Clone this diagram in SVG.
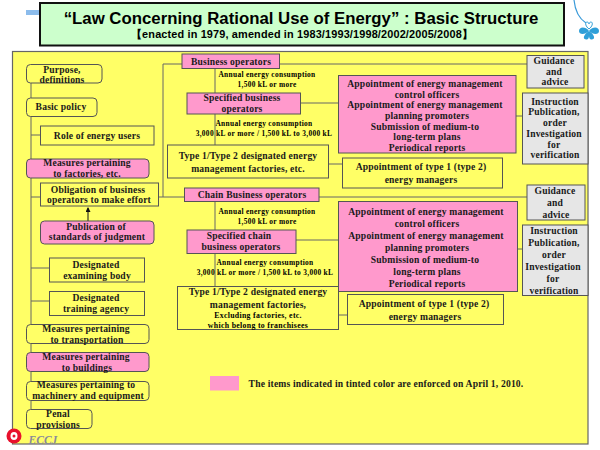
<svg xmlns="http://www.w3.org/2000/svg" width="600" height="450" viewBox="0 0 600 450">
<style>
text{font-family:"Liberation Serif",serif;font-weight:bold;font-size:9.6px;letter-spacing:.17px;text-anchor:middle;fill:#1a1a1a}
.s{font-size:7.4px;letter-spacing:.32px;fill:#000}
.y,.p,.g{stroke:#555;stroke-width:1}
.y{fill:#ffff66}.p{fill:#ff99cc}.g{fill:#e6e6e6}
.c{fill:none;stroke:#666;stroke-width:1}
</style>
<defs><marker id="a" markerWidth="6" markerHeight="6" refX="4" refY="2.5" orient="auto"><path d="M0 0L5 2.5L0 5z" fill="#111"/></marker></defs>
<rect width="600" height="450" fill="#fff"/>
<rect x="26" y="10" width="13" height="5" fill="#8cbcec"/>
<g id="title"><rect x="40" y="3" width="524" height="42.500" fill="#ccffcc" stroke="#111" stroke-width="2"/>
<text x="301" y="24" style="font-family:'Liberation Sans',sans-serif;font-size:16.800px;letter-spacing:0;fill:#000">“Law Concerning Rational Use of Energy” : Basic Structure</text>
<text x="302" y="38" style="font-family:'Liberation Sans',sans-serif;font-size:10.900px;letter-spacing:.15px;fill:#000">【enacted in 1979, amended in 1983/1993/1998/2002/2005/2008】</text></g>
<g id="logo"><path d="M574 0C575 10 578 18 586 23" fill="none" stroke="#3a9ad9" stroke-width="1.200"/>
<path d="M589 29C585 26 585 22 587 22C588 22 589 23 589 24C589 23 590 22 591 22C593 22 593 26 589 29Z" fill="#fff" stroke="#2f9fd8" stroke-width="1"/>
<g fill="#2f9fd8"><path d="M589 31C585 26 579 27 579 31C579 35 585 35 589 31Z"/><path d="M589 31C593 26 599 27 599 31C599 35 593 35 589 31Z"/><path d="M589 31C584 34 582 39 586 39.500C588 40 589 38 589 36C589 38 590 40 592 39.500C596 39 594 34 589 31Z"/></g></g>
<rect x="12.500" y="51.500" width="575.500" height="392.500" fill="#ffff66" stroke="#666" stroke-width="1.200"/>
<g id="connectors">
<path class="c" d="M31 83V409M31 135H40M31 197H40M31 268H49M31 301H49M158 197H184M163 197V64H182M279 64H527M215 68V93M215 114V145M300 103H338M516 116H522M328 164H342M319 197H527M215 201V230M215 253V286M296 240H338M517 249H522M338 315H347"/>
<path d="M88 221V208" fill="none" stroke="#111" stroke-width="1" marker-end="url(#a)"/>
</g>
<g id="purpose"><rect class="y" x="26.500" y="64.500" width="75.500" height="18.500" rx="4"/><text x="62" y="73">Purpose,</text><text x="62" y="83">definitions</text></g>
<g id="basic-policy"><rect class="y" x="26.500" y="98" width="70.500" height="18.500" rx="4"/><text x="61" y="110">Basic policy</text></g>
<g id="role"><rect class="y" x="40.500" y="126" width="113.500" height="19"/><text x="97" y="139">Role of energy users</text></g>
<g id="factories"><rect class="p" x="26.500" y="159" width="122.500" height="19" rx="4"/><text x="87" y="166">Measures pertaining</text><text x="87" y="177">to factories, etc.</text></g>
<g id="obligation"><rect class="y" x="40.500" y="183" width="118" height="23"/><text x="98" y="193">Obligation of business</text><text x="99" y="203">operators to make effort</text></g>
<g id="publication"><rect class="p" x="40.500" y="221" width="113.500" height="23" rx="4"/><text x="96" y="230">Publication of</text><text x="97" y="240">standards of judgment</text></g>
<g id="examining"><rect class="y" x="49.500" y="258" width="95" height="24"/><text x="96" y="268">Designated</text><text x="97" y="279">examining body</text></g>
<g id="training"><rect class="y" x="49.500" y="291.500" width="95" height="24"/><text x="96" y="301">Designated</text><text x="96" y="312">training agency</text></g>
<g id="transportation"><rect class="y" x="26.500" y="324.500" width="122.500" height="19" rx="4"/><text x="86" y="332">Measures pertaining</text><text x="87" y="343">to transportation</text></g>
<g id="buildings"><rect class="p" x="26.500" y="352.500" width="122.500" height="19" rx="4"/><text x="86" y="360">Measures pertaining</text><text x="87" y="371">to buildings</text></g>
<g id="machinery"><rect class="y" x="26.500" y="381.500" width="122.500" height="19" rx="4"/><text x="86" y="388">Measures pertaining to</text><text x="88" y="399">machinery and equipment</text></g>
<g id="penal"><rect class="y" x="26.500" y="409.500" width="65.500" height="19" rx="4"/><text x="58" y="417">Penal</text><text x="58" y="428">provisions</text></g>
<g id="business"><rect class="p" x="182" y="54" width="97.500" height="14.500"/><text x="231" y="64.500">Business operators</text></g>
<text class="s" x="267" y="77">Annual energy consumption</text><text class="s" x="267" y="87">1,500 kL or more</text>
<g id="specified"><rect class="p" x="187" y="93" width="113.500" height="21"/><text x="242" y="101">Specified business</text><text x="242" y="112">operators</text></g>
<text class="s" x="264" y="126">Annual energy consumption</text><text class="s" x="264" y="136">3,000 kL or more / 1,500 kL to 3,000 kL</text>
<g id="type1"><rect class="y" x="167.500" y="145" width="161" height="33"/><text x="248" y="159">Type 1/Type 2 designated energy</text><text x="248" y="172">management factories, etc.</text></g>
<g id="chain"><rect class="p" x="184.500" y="188" width="134.500" height="13.500"/><text x="252" y="198">Chain Business operators</text></g>
<text class="s" x="267" y="214">Annual energy consumption</text><text class="s" x="267" y="224">1,500 kL or more</text>
<g id="specified-chain"><rect class="p" x="187" y="230" width="109" height="23.500"/><text x="239" y="239">Specified chain</text><text x="241" y="250">business operators</text></g>
<text class="s" x="265" y="265">Annual energy consumption</text><text class="s" x="265" y="275">3,000 kL or more / 1,500 kL to 3,000 kL</text>
<g id="type1-chain"><rect class="y" x="177.500" y="286.500" width="161" height="43"/><text x="258" y="295">Type 1/Type 2 designated energy</text><text x="258" y="308">management factories,</text><text class="s" x="258" y="318" style="font-size:7.800px">Excluding factories, etc.</text><text class="s" x="258" y="328" style="font-size:7.800px">which belong to franchisees</text></g>
<g id="duties"><rect class="p" x="338.500" y="75.500" width="177.500" height="77.500"/><text x="425" y="87">Appointment of energy management</text><text x="427" y="98">control officers</text><text x="425" y="108">Appointment of energy management</text><text x="427" y="119">planning promoters</text><text x="425" y="130">Submission of medium-to</text><text x="427" y="140">long-term plans</text><text x="427" y="151">Periodical reports</text></g>
<g id="managers"><rect class="y" x="342.500" y="158" width="160" height="30"/><text x="421" y="170">Appointment of type 1 (type 2)</text><text x="421" y="183">energy managers</text></g>
<g id="duties-chain"><rect class="p" x="338.500" y="201.500" width="179" height="90"/><text x="426" y="215">Appointment of energy management</text><text x="427" y="227">control officers</text><text x="426" y="239">Appointment of energy management</text><text x="427" y="251">planning promoters</text><text x="425" y="263">Submission of medium-to</text><text x="427" y="275">long-term plans</text><text x="427" y="287">Periodical reports</text></g>
<g id="managers-chain"><rect class="y" x="347.500" y="294.500" width="156" height="30"/><text x="424" y="307">Appointment of type 1 (type 2)</text><text x="425" y="320">energy managers</text></g>
<g id="guidance"><rect class="g" x="527" y="55.500" width="57" height="32.500"/><text x="554" y="64">Guidance</text><text x="554" y="75">and</text><text x="555" y="85">advice</text></g>
<g id="instruction"><rect class="g" x="522.500" y="93" width="65.500" height="71"/><text x="555" y="105">Instruction</text><text x="554" y="115">Publication,</text><text x="555" y="126">order</text><text x="554" y="137">Investigation</text><text x="554" y="148">for</text><text x="555" y="158">verification</text></g>
<g id="guidance-chain"><rect class="g" x="527" y="185" width="58" height="35"/><text x="555" y="194">Guidance</text><text x="555" y="206">and</text><text x="556" y="218">advice</text></g>
<g id="instruction-chain"><rect class="g" x="522.500" y="225" width="65.500" height="70.500"/><text x="554" y="234">Instruction</text><text x="554" y="246">Publication,</text><text x="554" y="258">order</text><text x="553" y="270">Investigation</text><text x="553" y="282">for</text><text x="554" y="294">verification</text></g>
<g id="legend"><rect x="210" y="376" width="29" height="14.500" fill="#ff99cc"/><text x="386" y="387">The items indicated in tinted color are enforced on April 1, 2010.</text></g>
<g id="ecc"><circle cx="14" cy="436" r="7.500" fill="#e8112d"/><ellipse cx="14" cy="436" rx="3.500" ry="4" fill="#fff"/><circle cx="14" cy="436" r="1.500" fill="#e8112d"/><text x="43" y="444" style="font-size:11.500px;font-style:italic;font-family:'Liberation Serif',serif;fill:#8a8a9a;letter-spacing:0">ECCJ</text></g>
</svg>
